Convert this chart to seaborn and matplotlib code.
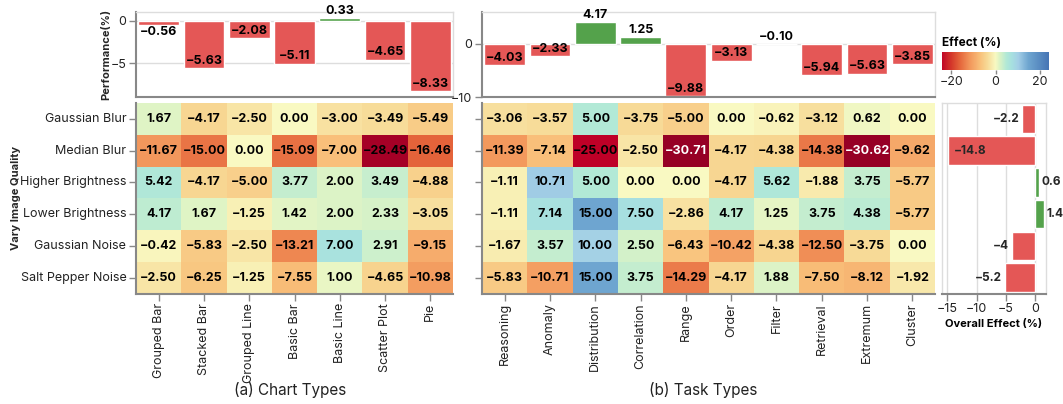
import numpy as np
import pandas as pd
import matplotlib
matplotlib.use("Agg")
import matplotlib.pyplot as plt
import seaborn as sns
from matplotlib.colors import LinearSegmentedColormap, Normalize

chart_types = ["Grouped Bar", "Stacked Bar", "Grouped Line", "Basic Bar",
               "Basic Line", "Scatter Plot", "Pie"]
chart_perf = [-0.56, -5.63, -2.08, -5.11, 0.33, -4.65, -8.33]

task_types = ["Reasoning", "Anomaly", "Distribution", "Correlation", "Range",
              "Order", "Filter", "Retrieval", "Extremum", "Cluster"]
task_perf = [-4.03, -2.33, 4.17, 1.25, -9.88, -3.13, -0.10, -5.94, -5.63, -3.85]

conditions = ["Gaussian Blur", "Median Blur", "Higher Brightness",
              "Lower Brightness", "Gaussian Noise", "Salt Pepper Noise"]

chart_effect = [
    [1.67, -4.17, -2.50, 0.00, -3.00, -3.49, -5.49],
    [-11.67, -15.00, 0.00, -15.09, -7.00, -28.49, -16.46],
    [5.42, -4.17, -5.00, 3.77, 2.00, 3.49, -4.88],
    [4.17, 1.67, -1.25, 1.42, 2.00, 2.33, -3.05],
    [-0.42, -5.83, -2.50, -13.21, 7.00, 2.91, -9.15],
    [-2.50, -6.25, -1.25, -7.55, 1.00, -4.65, -10.98],
]

task_effect = [
    [-3.06, -3.57, 5.00, -3.75, -5.00, 0.00, -0.62, -3.12, 0.62, 0.00],
    [-11.39, -7.14, -25.00, -2.50, -30.71, -4.17, -4.38, -14.38, -30.62, -9.62],
    [-1.11, 10.71, 5.00, 0.00, 0.00, -4.17, 5.62, -1.88, 3.75, -5.77],
    [-1.11, 7.14, 15.00, 7.50, -2.86, 4.17, 1.25, 3.75, 4.38, -5.77],
    [-1.67, 3.57, 10.00, 2.50, -6.43, -10.42, -4.38, -12.50, -3.75, 0.00],
    [-5.83, -10.71, 15.00, 3.75, -14.29, -4.17, 1.88, -7.50, -8.12, -1.92],
]

overall_effect = [-2.2, -14.8, 0.6, 1.4, -4, -5.2]

RED = "#e45756"
GREEN = "#54a24b"
AXIS = "#888888"
GRID = "#dddddd"
TXT = "#222222"

sns.set_theme(style="white")
plt.rcParams["font.family"] = ["Inter", "DejaVu Sans"]

# colour scale
anchors = [(-31, "#940025"), (-25, "#be0027"), (-20, "#d53a2b"),
           (-16.5, "#e4633a"), (-12, "#f2945a"), (-7, "#f9c07a"),
           (-4, "#f7d894"), (0, "#f9f9c2"), (2, "#dbf3c6"), (5, "#b2e9d6"),
           (7.5, "#a7e0e0"), (10.5, "#a3cee6"), (15, "#6fa6d0"), (25, "#4372b3")]
vmin, vmax = -31, 25
cmap = LinearSegmentedColormap.from_list(
    "effect", [((v - vmin) / (vmax - vmin), c) for v, c in anchors])


def fmt(v, nd=2):
    return f"{v:.{nd}f}".replace("-", "\u2212")


def num(v):
    return ("%g" % v).replace("-", "\u2212")


W, H = 1063, 404


def box(x0, y0, x1, y1):
    return [x0 / W, 1 - y1 / H, (x1 - x0) / W, (y1 - y0) / H]


fig = plt.figure(figsize=(W / 100, H / 100), dpi=100)

ax_bar_a = fig.add_axes(box(136, 12, 453, 97))
ax_heat_a = fig.add_axes(box(136, 103, 453, 293.5))
ax_bar_b = fig.add_axes(box(482, 12, 935, 97))
ax_heat_b = fig.add_axes(box(482, 103, 935, 293.5))
ax_over = fig.add_axes(box(942, 103, 1046, 293.5))
ax_cbar = fig.add_axes(box(942, 52, 1049, 70))


def draw_bars(ax, labels, values, ylim, yticks):
    signs = ["pos" if v >= 0 else "neg" for v in values]
    sns.barplot(x=labels, y=values, hue=signs,
                palette={"pos": GREEN, "neg": RED},
                width=0.9, saturation=1, legend=False, ax=ax)
    ax.set_xlim(-0.5, len(labels) - 0.5)
    ax.set_ylim(*ylim)
    ax.set_yticks(yticks)
    ax.set_yticklabels([num(t) for t in yticks], fontsize=9, color=TXT)
    ax.set_xticks([])
    ax.set_xlabel("")
    ax.set_ylabel("")
    ax.yaxis.grid(True, color=GRID, lw=1)
    ax.set_axisbelow(True)
    ax.tick_params(axis="y", left=True, length=5, width=1, color=AXIS, pad=2)
    for side in ["top", "right"]:
        ax.spines[side].set_color(GRID)
        ax.spines[side].set_linewidth(1)
    for side in ["left", "bottom"]:
        ax.spines[side].set_color(AXIS)
        ax.spines[side].set_linewidth(1.5)
    for i, v in enumerate(values):
        if v >= 0:
            dy = 5
        elif -1 < v < -0.3:
            dy = -5
        else:
            dy = 5.5
        ax.annotate(fmt(v), (i, v), xytext=(0, dy), textcoords="offset points",
                    ha="center", va="center", fontsize=9, fontweight="bold",
                    color="black", annotation_clip=False)


def draw_heat(ax, data, cols, show_rows):
    df = pd.DataFrame(data, index=conditions, columns=cols)
    labels = df.map(fmt)
    sns.heatmap(df, cmap=cmap, vmin=vmin, vmax=vmax, annot=labels, fmt="",
                cbar=False, ax=ax,
                annot_kws={"fontsize": 9, "fontweight": "bold"})
    for t in ax.texts:
        val = float(t.get_text().replace("\u2212", "-"))
        t.set_color("white" if val < -30 else "black")
    ax.set_xlabel("")
    ax.set_ylabel("")
    ax.set_xticklabels(cols, rotation=90, fontsize=9, color=TXT)
    if show_rows:
        ax.set_yticklabels(conditions, rotation=0, fontsize=9, color=TXT)
    else:
        ax.set_yticklabels([])
    ax.tick_params(bottom=True, left=True, length=5, width=1, color=AXIS, pad=2)
    for side in ["left", "bottom"]:
        ax.spines[side].set_visible(True)
        ax.spines[side].set_color(AXIS)
        ax.spines[side].set_linewidth(1.5)


draw_bars(ax_bar_a, chart_types, chart_perf, (-9, 1), [0, -5])
draw_bars(ax_bar_b, task_types, task_perf, (-10, 6), [0, -10])
draw_heat(ax_heat_a, chart_effect, chart_types, True)
draw_heat(ax_heat_b, task_effect, task_types, False)

# overall effect per image condition
signs = ["pos" if v >= 0 else "neg" for v in overall_effect]
sns.barplot(x=overall_effect, y=conditions, hue=signs, orient="h",
            palette={"pos": GREEN, "neg": RED}, width=0.9, saturation=1,
            legend=False, ax=ax_over)
ax_over.set_ylim(len(conditions) - 0.5, -0.5)
ax_over.set_xlim(-15.9, 1.8)
ax_over.set_yticks([])
ax_over.set_ylabel("")
xt = [-15, -10, -5, 0]
ax_over.set_xticks(xt)
ax_over.set_xticklabels([num(t) for t in xt], fontsize=9, color=TXT)
ax_over.set_xlabel("Overall Effect (%)", fontsize=8, fontweight="bold",
                   color="black", labelpad=3)
ax_over.xaxis.grid(True, color=GRID, lw=1)
ax_over.set_axisbelow(True)
ax_over.tick_params(axis="x", bottom=True, length=5, width=1, color=AXIS, pad=2)
for side in ["top", "right", "left"]:
    ax_over.spines[side].set_color(GRID)
    ax_over.spines[side].set_linewidth(1)
ax_over.spines["bottom"].set_color(AXIS)
ax_over.spines["bottom"].set_linewidth(1.5)
for i, v in enumerate(overall_effect):
    if v >= 0:
        ax_over.annotate(num(v), (v, i), xytext=(2, 0), textcoords="offset points",
                         ha="left", va="center", fontsize=8.5, fontweight="bold",
                         annotation_clip=False)
    elif v < -12:
        ax_over.annotate(num(v), (v, i), xytext=(4, 0), textcoords="offset points",
                         ha="left", va="center", fontsize=8.5, fontweight="bold")
    else:
        ax_over.annotate(num(v), (v, i), xytext=(-2, 0), textcoords="offset points",
                         ha="right", va="center", fontsize=8.5, fontweight="bold")

# colour legend
lo, hi = -24.3, 24.3
grad = np.linspace(lo, hi, 300)[None, :]
ax_cbar.imshow(grad, cmap=cmap, norm=Normalize(vmin, vmax), aspect="auto",
               extent=[lo, hi, 0, 1])
ax_cbar.set_xlim(lo, hi)
ax_cbar.set_yticks([])
ct = [-20, 0, 20]
ax_cbar.set_xticks(ct)
ax_cbar.set_xticklabels([num(t) for t in ct], fontsize=9, color=TXT)
ax_cbar.tick_params(axis="x", bottom=True, length=3, width=1, color=AXIS, pad=1)
for side in ax_cbar.spines:
    ax_cbar.spines[side].set_visible(False)
ax_cbar.set_title("Effect (%)", loc="left", fontsize=8.5, fontweight="bold",
                  color="black", pad=4)

fig.text(106 / W, 1 - 54.5 / H, "Performance(%)", rotation=90, ha="center",
         va="center", fontsize=8, fontweight="bold")
fig.text(16 / W, 1 - 198 / H, "Vary Image Quality", rotation=90, ha="center",
         va="center", fontsize=8, fontweight="bold")
fig.text(290 / W, 1 - 390 / H, "(a) Chart Types", ha="center", va="center",
         fontsize=11, color=TXT)
fig.text(703 / W, 1 - 390 / H, "(b) Task Types", ha="center", va="center",
         fontsize=11, color=TXT)

fig.savefig("out.png", dpi=100)
